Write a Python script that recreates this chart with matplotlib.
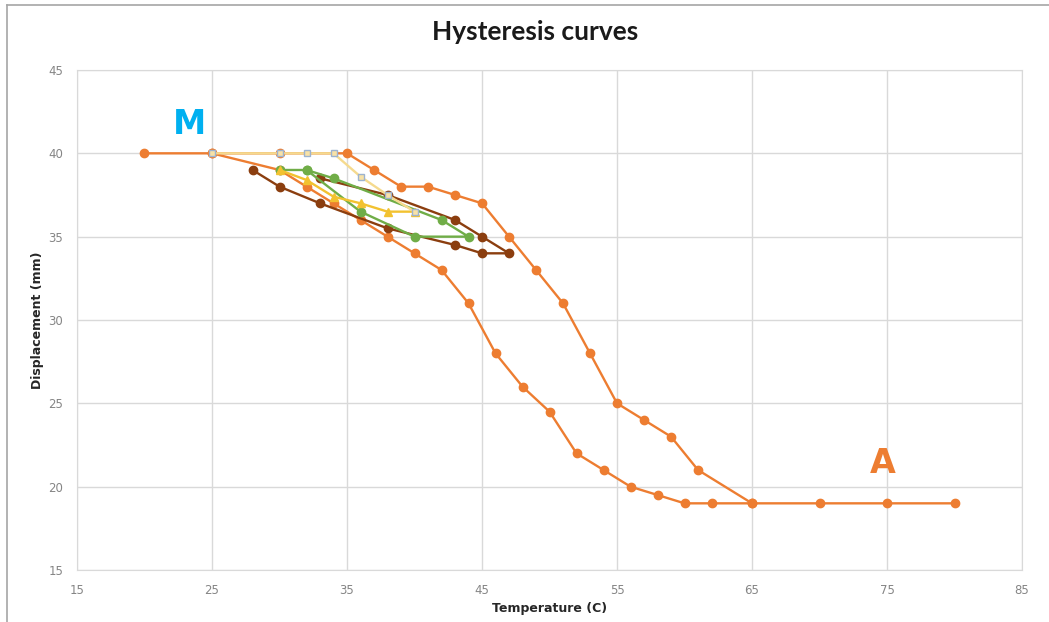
import matplotlib.pyplot as plt
from matplotlib.lines import Line2D

# outer loop (heating then cooling)
big_heat_t = [20, 25, 30, 35, 37, 39, 41, 43, 45, 47, 49, 51, 53, 55, 57, 59, 61, 65, 70, 75, 80]
big_heat_d = [40, 40, 40, 40, 39, 38, 38, 37.5, 37, 35, 33, 31, 28, 25, 24, 23, 21, 19, 19, 19, 19]
big_cool_t = [65, 62, 60, 58, 56, 54, 52, 50, 48, 46, 44, 42, 40, 38, 36, 34, 32, 30, 25]
big_cool_d = [19, 19, 19, 19.5, 20, 21, 22, 24.5, 26, 28, 31, 33, 34, 35, 36, 37, 38, 39, 40]

# small loops
pale_t = [25, 30, 32, 34, 36, 38, 40]
pale_d = [40, 40, 40, 40, 38.6, 37.5, 36.5]
gold_t = [40, 38, 36, 34, 32, 30]
gold_d = [36.5, 36.5, 37, 37.4, 38.4, 39]
green_t = [30, 32, 36, 40, 44, 42, 34, 32]
green_d = [39, 39, 36.5, 35, 35, 36, 38.5, 39]
brown_t = [33, 38, 43, 45, 47, 45, 43, 38, 33, 30, 28]
brown_d = [38.5, 37.5, 36, 35, 34, 34, 34.5, 35.5, 37, 38, 39]

x_ticks = [15, 25, 35, 45, 55, 65, 75, 85]
y_ticks = [15, 20, 25, 30, 35, 40, 45]

fig = plt.figure(figsize=(10.49, 6.22), dpi=100)
ax = fig.add_axes([0.0734, 0.0836, 0.9009, 0.8039])

orange = '#ED7D31'
lw = 1.7
ax.plot(big_heat_t, big_heat_d, color=orange, lw=lw, marker='o', ms=6, zorder=2)
ax.plot(big_cool_t, big_cool_d, color=orange, lw=lw, marker='o', ms=6, zorder=2)
ax.plot(brown_t, brown_d, color='#8B3E0F', lw=lw, marker='o', ms=6, zorder=3)
ax.plot(green_t, green_d, color='#70AD47', lw=lw, marker='o', ms=6, zorder=4)
ax.plot(gold_t, gold_d, color='#F2C230', lw=lw, marker='^', ms=6, zorder=5)
ax.plot(pale_t, pale_d, color='#F5DA8E', lw=lw, marker='s', ms=5,
        markerfacecolor='#F8E2A6', markeredgecolor='#9DB3CF', zorder=6)

ax.set_xlim(15, 85)
ax.set_ylim(15, 45)
ax.set_xticks(x_ticks)
ax.set_yticks(y_ticks)
ax.grid(True, color='#D9D9D9', lw=1)
ax.set_axisbelow(True)
for s in ax.spines.values():
    s.set_color('#D9D9D9')
ax.tick_params(length=0, colors='#858585', labelsize=8.5, pad=10)

ax.set_xlabel('Temperature (C)', fontsize=9, fontweight='bold', color='#262626', labelpad=4)
ax.set_ylabel('Displacement (mm)', fontsize=9, fontweight='bold', color='#262626', labelpad=3)
fig.suptitle('Hysteresis curves', x=0.51, y=0.968, fontsize=19, fontweight='bold',
             family='Lato', color='#1a1a1a')

ax.text(23.3, 41.7, 'M', color='#00B0F0', fontsize=24, fontweight='heavy',
        ha='center', va='center')
ax.text(74.7, 21.4, 'A', color=orange, fontsize=24, fontweight='heavy',
        ha='center', va='center')

# thin frame along the top and left of the picture
fig.add_artist(Line2D([0.007, 0.007], [0, 0.992], color='#A6A6A6', lw=1.2))
fig.add_artist(Line2D([0.007, 1.0], [0.992, 0.992], color='#A6A6A6', lw=1.2))

plt.savefig('out.png', dpi=100)
